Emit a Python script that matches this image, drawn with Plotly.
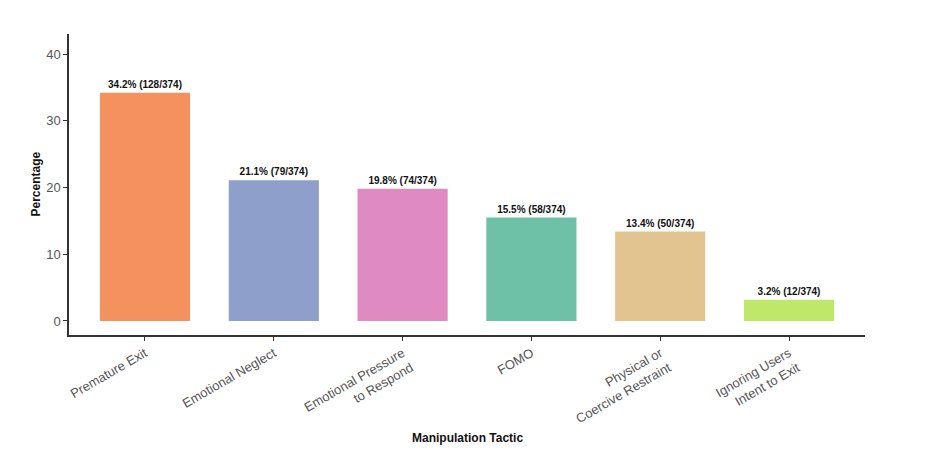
import plotly.graph_objects as go

categories = ["Premature Exit", "Emotional Neglect", "Emotional Pressure<br>to Respond", "FOMO",
              "Physical or<br>Coercive Restraint", "Ignoring Users<br>Intent to Exit"]
percentages = [34.2, 21.1, 19.8, 15.5, 13.4, 3.2]
counts = [128, 79, 74, 58, 50, 12]
total = 374
colors = ["#F4915E", "#8E9FCB", "#E08AC2", "#6EC1A6", "#E2C491", "#BFE86A"]
yticks = [0, 10, 20, 30, 40]

labels = [f"{p}% ({c}/{total})" for p, c in zip(percentages, counts)]

fig = go.Figure()
fig.add_trace(go.Bar(
    x=list(range(len(categories))), y=percentages,
    marker=dict(color=colors, line=dict(width=0)),
    width=0.7,
    text=labels, textposition="outside", cliponaxis=False,
    textfont=dict(family="Liberation Sans, Arial", size=10, color="#111111", weight="bold"),
    constraintext="none",
))

fig.update_layout(
    width=928, height=445,
    margin=dict(l=61, r=71, t=26, b=118, autoexpand=False),
    plot_bgcolor="white", paper_bgcolor="white",
    font=dict(family="Liberation Sans, Arial", color="#333333"),
    showlegend=False,
    bargap=0.3,
    annotations=[
        dict(text="<b>Manipulation Tactic</b>", xref="paper", yref="paper", x=0.5, y=-0.342,
             xanchor="center", yanchor="middle", showarrow=False,
             font=dict(size=12, color="#111111")),
        dict(text="<b>Percentage</b>", xref="paper", yref="paper", x=-0.0427, y=0.5,
             xanchor="center", yanchor="middle", showarrow=False, textangle=-90,
             font=dict(size=12, color="#111111")),
    ],
)
fig.update_xaxes(
    tickmode="array", tickvals=list(range(len(categories))), ticktext=categories,
    range=[-0.59, 5.59], tickangle=-30, automargin=False,
    showline=True, linecolor="#333333", linewidth=1.5,
    ticks="outside", ticklen=4, tickcolor="#333333",
    tickfont=dict(size=13, color="#555555"),
    showgrid=False, zeroline=False,
)
fig.update_yaxes(
    tickvals=yticks, range=[-2.1, 43], automargin=False,
    showline=True, linecolor="#333333", linewidth=1.5,
    ticks="outside", ticklen=4, tickcolor="#333333",
    tickfont=dict(size=13, color="#555555"),
    showgrid=False, zeroline=False,
)

fig.write_html("out.html")
